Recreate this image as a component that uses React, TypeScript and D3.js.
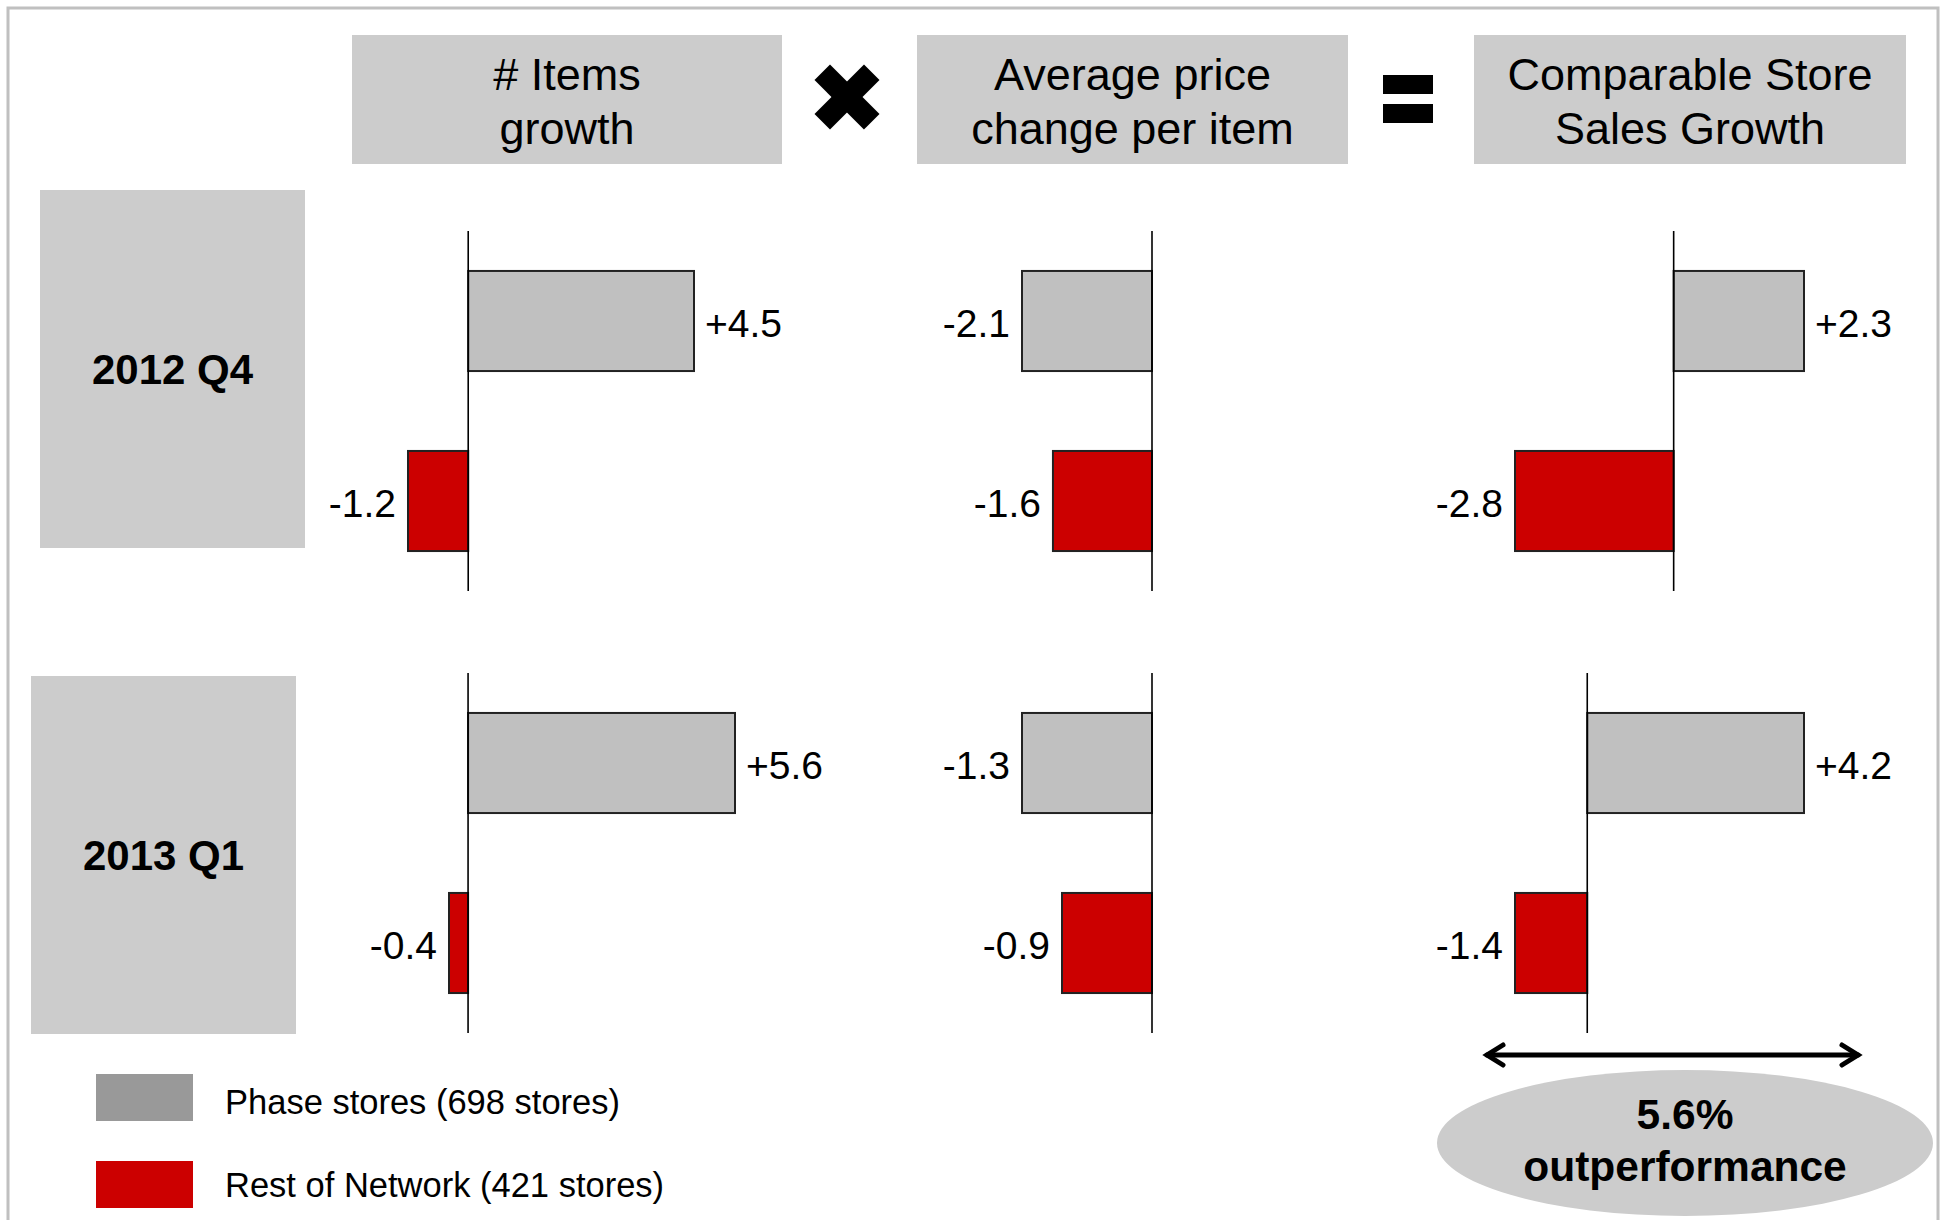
import React from 'react';
import * as d3 from 'd3';

// chart data
const metrics = [['# Items', 'growth'], ['Average price', 'change per item'], ['Comparable Store', 'Sales Growth']];
const periods = ['2012 Q4', '2013 Q1'];
const seriesNames = ['Phase stores (698 stores)', 'Rest of Network (421 stores)'];
// [period][metric]
const phaseStores = [[4.5, -2.1, 2.3], [5.6, -1.3, 4.2]];
const restOfNetwork = [[-1.2, -1.6, -2.8], [-0.4, -0.9, -1.4]];
const outperformance = ['5.6%', 'outperformance'];

const FONT = '"Liberation Sans", Arial, Helvetica, sans-serif';
const GREY_BOX = '#cccccc';
const PHASE = '#c0c0c0';
const PHASE_LEGEND = '#999999';
const RED = '#cc0000';

// layout of the little charts (pixels)
const headerX = [[352, 782], [917, 1348], [1474, 1906]];
const rowY = [[231, 591], [673, 1033]];
const labelBoxes = [[40, 305, 190, 548], [31, 296, 676, 1034]];
const panelRanges = [
    [[408, 694], [1022, 1152], [1515, 1804]],
    [[449, 735], [1022, 1152], [1515, 1804]],
];

const fmt = d3.formatLocale({ decimal: '.', thousands: ',', grouping: [3], currency: ['', ''], minus: '-' }).format('+.1f');

const Panel = ({ row, col }: { row: number; col: number }) => {
    const vals = [phaseStores[row][col], restOfNetwork[row][col]];
    const x = d3.scaleLinear()
        .domain([Math.min(0, ...vals), Math.max(0, ...vals)])
        .range(panelRanges[row][col]);
    const y = d3.scaleBand<string>()
        .domain(seriesNames)
        .range(rowY[row])
        .paddingInner(0.444)
        .paddingOuter(0.222);
    const colors = [PHASE, RED];
    return (
        <g>
            {vals.map((v, i) => {
                const x0 = Math.min(x(0), x(v));
                const w = Math.abs(x(v) - x(0));
                const yy = y(seriesNames[i]) as number;
                const pos = v >= 0;
                return (
                    <g key={i}>
                        <rect x={x0} y={yy} width={w} height={y.bandwidth()}
                            fill={colors[i]} stroke="#222" strokeWidth={2} />
                        <text x={pos ? x(v) + 11 : x(v) - 12} y={yy + y.bandwidth() / 2}
                            dy="0.42em" textAnchor={pos ? 'start' : 'end'}
                            fontSize={39} fill="#000">{fmt(v)}</text>
                    </g>
                );
            })}
            <line x1={x(0)} x2={x(0)} y1={rowY[row][0]} y2={rowY[row][1]} stroke="#000" strokeWidth={1.6} />
        </g>
    );
};

const App = () => {
    return (
        <div style={{ position: 'absolute', left: 0, top: 0 }}>
            <svg width={1944} height={1220} style={{ display: 'block', fontFamily: FONT }}>
                <rect x={0} y={0} width={1944} height={1220} fill="#fff" />
                <rect x={8} y={8} width={1930} height={1230} fill="none" stroke="#c0c0c0" strokeWidth={3} />

                {/* headers */}
                {metrics.map((m, i) => {
                    const [a, b] = headerX[i];
                    return (
                        <g key={i}>
                            <rect x={a} y={35} width={b - a} height={129} fill={GREY_BOX} />
                            {m.map((line, j) => (
                                <text key={j} x={(a + b) / 2} y={90 + j * 54} textAnchor="middle" fontSize={45}>{line}</text>
                            ))}
                        </g>
                    );
                })}

                {/* multiply sign */}
                <g transform="translate(847,97)">
                    <rect x={-35} y={-11} width={70} height={22} fill="#000" transform="rotate(45)" />
                    <rect x={-35} y={-11} width={70} height={22} fill="#000" transform="rotate(-45)" />
                </g>
                {/* equals sign */}
                <rect x={1383} y={75} width={50} height={19} fill="#000" />
                <rect x={1383} y={104} width={50} height={19} fill="#000" />

                {/* period labels */}
                {periods.map((p, i) => {
                    const [a, b, c, d] = labelBoxes[i];
                    return (
                        <g key={p}>
                            <rect x={a} y={c} width={b - a} height={d - c} fill={GREY_BOX} />
                            <text x={(a + b) / 2} y={(c + d) / 2} dy="0.36em" textAnchor="middle"
                                fontSize={42} fontWeight="bold">{p}</text>
                        </g>
                    );
                })}

                {periods.map((p, r) => metrics.map((m, c) => <Panel key={p + c} row={r} col={c} />))}

                {/* legend */}
                {seriesNames.map((s, i) => (
                    <g key={s}>
                        <rect x={96} y={1074 + i * 87} width={97} height={47} fill={i === 0 ? PHASE_LEGEND : RED} />
                        <text x={225} y={1102 + i * 83} dy="0.36em" fontSize={34.5}>{s}</text>
                    </g>
                ))}

                {/* double arrow */}
                <g stroke="#000" strokeWidth={5} fill="none" strokeLinecap="round">
                    <line x1={1487} x2={1858} y1={1055} y2={1055} />
                    <polyline points="1503,1045 1487,1055 1503,1065" />
                    <polyline points="1842,1045 1858,1055 1842,1065" />
                </g>

                {/* outperformance bubble */}
                <ellipse cx={1685} cy={1143} rx={248} ry={73} fill={GREY_BOX} />
                <text x={1685} y={1129} textAnchor="middle" fontSize={42.5} fontWeight="bold">{outperformance[0]}</text>
                <text x={1685} y={1181} textAnchor="middle" fontSize={42.5} fontWeight="bold">{outperformance[1]}</text>
            </svg>
        </div>
    );
};

export default App;
